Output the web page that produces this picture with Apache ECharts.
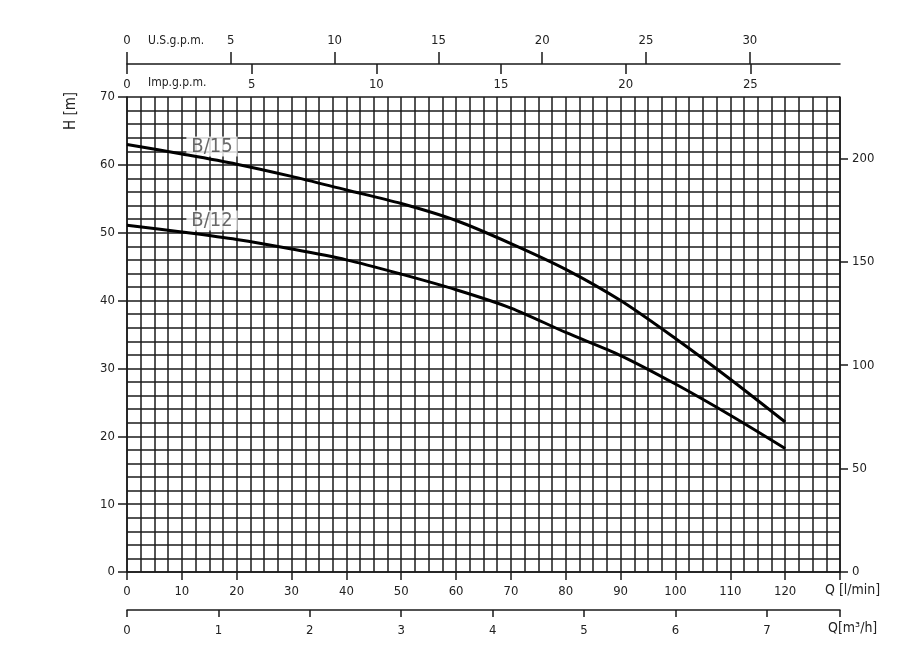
<!DOCTYPE html>
<html>
<head>
<meta charset="utf-8">
<script src="https://cdn.jsdelivr.net/npm/echarts@6/dist/echarts.min.js"></script>
<style>
  html, body { margin: 0; padding: 0; background: #fff; }
  #chart { width: 907px; height: 661px; }
</style>
</head>
<body>
<div id="chart"></div>
<script>
  // Q in l/min, H in m
  const qValues = [0, 10, 20, 30, 40, 50, 60, 70, 80, 90, 100, 110, 120];
  const b15 = [63, 61.6, 60.1, 58.3, 56.3, 54.3, 51.8, 48.4, 44.6, 40.0, 34.4, 28.4, 22.1];
  const b12 = [51.1, 50.1, 49, 47.6, 46, 43.9, 41.6, 38.9, 35.3, 31.9, 27.7, 23.1, 18.2];
  const seriesNames = ['B/15', 'B/12'];
  const labelAt = [[15.5, 62.7], [15.5, 51.8]];

  // tick labels of the secondary scales
  const usTicks = [0, 5, 10, 15, 20, 25, 30];
  const impTicks = [0, 5, 10, 15, 20, 25];
  const ftTicks = [0, 50, 100, 150, 200];

  // axis ranges
  const qMax = 130;               // l/min
  const hMax = 70;                // m
  const ftMax = hMax / 0.3048;    // ft
  const usMax = qMax / 3.78541;   // U.S. gpm
  const impMax = qMax / 4.54609;  // Imp. gpm
  const m3hMax = qMax * 60 / 1000;

  const font = "'Liberation Sans Narrow', 'DejaVu Sans Condensed', 'DejaVu Sans', sans-serif";
  const ink = '#1a1a1a';
  const lbl = { color: '#222', fontFamily: font, fontSize: 13 };

  const myChart = echarts.init(document.getElementById('chart'));

  const pairs = (ys) => qValues.map((q, i) => [q, ys[i]]);

  const curves = [b15, b12].map((ys, i) => ({
    name: seriesNames[i],
    type: 'line',
    z: 3,
    data: pairs(ys),
    smooth: 0.3,
    symbol: 'none',
    lineStyle: { color: '#000', width: 3 }
  }));

  // curve names, drawn under the curves but over the grid
  const names = {
    type: 'scatter',
    z: 1,
    symbolSize: 0,
    silent: true,
    data: labelAt.map((p, i) => ({ value: p, name: seriesNames[i] })),
    label: {
      show: true, position: 'inside', formatter: '{b}',
      color: '#444', fontFamily: font, fontSize: 20, lineHeight: 18,
      backgroundColor: '#fff', padding: [1, 5]
    }
  };

  const option = {
    backgroundColor: '#fff',
    animation: false,
    grid: [
      { left: 127, right: 67, top: 97, bottom: 89 },
      { left: 127, right: 67, top: 609, height: 1 },
      { left: 127, right: 67, top: 63, height: 1 }
    ],
    xAxis: [
      { // grid lines every 2.5 l/min
        gridIndex: 0, type: 'value', min: 0, max: qMax, interval: 2.5,
        axisLine: { show: false }, axisTick: { show: false }, axisLabel: { show: false },
        splitLine: { lineStyle: { color: ink, width: 1.5 } }
      },
      { // l/min labels
        gridIndex: 0, type: 'value', min: 0, max: qMax, interval: 10, position: 'bottom',
        axisLine: { show: true, lineStyle: { color: ink, width: 1.5 } },
        axisTick: { show: true, length: 8, lineStyle: { color: ink, width: 1.5 } },
        axisLabel: Object.assign({ margin: 13, formatter: v => (v <= 120 ? v : '') }, lbl),
        splitLine: { show: false }
      },
      { // m3/h
        gridIndex: 1, type: 'value', min: 0, max: m3hMax, interval: 1, position: 'bottom',
        axisLine: { show: true, lineStyle: { color: ink, width: 1.5 } },
        axisTick: { show: true, length: 7, lineStyle: { color: ink, width: 1.5 } },
        axisLabel: Object.assign({ margin: 14, formatter: v => (v <= 7 ? v : '') }, lbl),
        splitLine: { show: false }
      },
      { // U.S. gpm
        gridIndex: 2, type: 'value', min: 0, max: usMax, position: 'top',
        axisLine: { show: true, lineStyle: { color: ink, width: 1.5 } },
        axisTick: { show: true, length: 12, customValues: usTicks, lineStyle: { color: ink, width: 1.5 } },
        axisLabel: Object.assign({ margin: 16, customValues: usTicks }, lbl),
        splitLine: { show: false }
      },
      { // Imp. gpm
        gridIndex: 2, type: 'value', min: 0, max: impMax, position: 'bottom',
        axisLine: { show: false },
        axisTick: { show: true, length: 10, customValues: impTicks, lineStyle: { color: ink, width: 1.5 } },
        axisLabel: Object.assign({ margin: 14, customValues: impTicks }, lbl),
        splitLine: { show: false }
      }
    ],
    yAxis: [
      { // grid lines every 2 m
        gridIndex: 0, type: 'value', min: 0, max: hMax, interval: 2,
        axisLine: { show: false }, axisTick: { show: false }, axisLabel: { show: false },
        splitLine: { lineStyle: { color: ink, width: 1.5 } }
      },
      { // H [m]
        gridIndex: 0, type: 'value', min: 0, max: hMax, interval: 10, position: 'left', offset: 0,
        axisLine: { show: true, lineStyle: { color: ink, width: 1.5 } },
        axisTick: { show: true, length: 9, lineStyle: { color: ink, width: 1.5 } },
        axisLabel: Object.assign({ margin: 12 }, lbl),
        splitLine: { show: false }
      },
      { // ft
        gridIndex: 0, type: 'value', min: 0, max: ftMax, position: 'right',
        axisLine: { show: true, lineStyle: { color: ink, width: 1.5 } },
        axisTick: { show: true, length: 8, customValues: ftTicks, lineStyle: { color: ink, width: 1.5 } },
        axisLabel: Object.assign({ margin: 12, customValues: ftTicks }, lbl),
        splitLine: { show: false }
      },
      { gridIndex: 1, type: 'value', show: false },
      { gridIndex: 2, type: 'value', show: false }
    ],
    series: curves.concat([names]),
    graphic: [
      { type: 'text', left: 148, top: 35,
        style: { text: 'U.S.g.p.m.', fill: '#222', font: '12px ' + font } },
      { type: 'text', left: 148, top: 77,
        style: { text: 'Imp.g.p.m.', fill: '#222', font: '12px ' + font } },
      { type: 'text', x: 64, y: 130, rotation: Math.PI / 2,
        style: { text: 'H [m]', fill: '#222', font: '15px ' + font } },
      { type: 'text', left: 825, top: 583,
        style: { text: 'Q [l/min]', fill: '#222', font: '14px ' + font } },
      { type: 'text', left: 828, top: 621,
        style: { text: 'Q[m³/h]', fill: '#222', font: '14px ' + font } }
    ]
  };

  myChart.setOption(option);
</script>
</body>
</html>
